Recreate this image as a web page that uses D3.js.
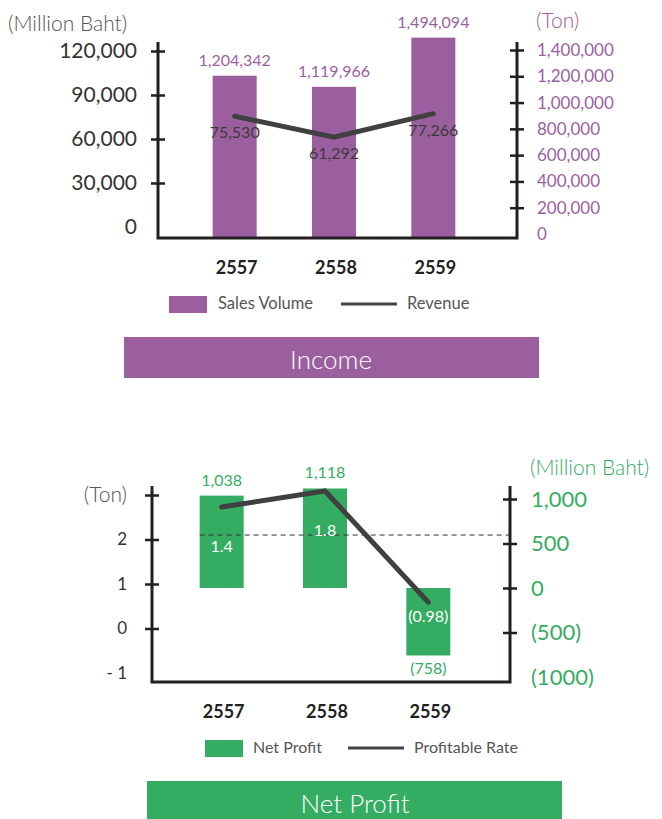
<!doctype html><html><head><meta charset="utf-8">
<style>
  body { margin: 0; background: #fff; }
  text { font-family: Lato, "Open Sans", sans-serif; }
</style>
</head><body><script src="https://d3js.org/d3.v7.min.js"></script>

<script>
  // ---- data ----
  const years = ["2557", "2558", "2559"];
  const salesVolume = [1204342, 1119966, 1494094];   // Ton
  const revenue = [75530, 61292, 77266];             // Million Baht
  const revenueTicks = [0, 30000, 60000, 90000, 120000];
  const volumeTicks = [0, 200000, 400000, 600000, 800000, 1000000, 1200000, 1400000];

  const netProfit = [1038, 1118, -758];              // Million Baht
  const profitRate = [1.4, 1.8, -0.98];
  const rateTicks = [-1, 0, 1, 2, 3];
  const rateTickLabels = ["- 1", "0", "1", "2", ""];
  const profitTicks = [-1000, -500, 0, 500, 1000];
  const profitTickLabels = ["(1000)", "(500)", "0", "500", "1,000"];
  const rateRef = 2.1;

  const purple = "#9b5fa0", green = "#34ad62", dark = "#231f20", lineCol = "#404040";
  const comma = d3.format(",");
  const paren = v => v < 0 ? "(" + comma(-v) + ")" : comma(v);

  const svg = d3.select("body").append("svg")
    .attr("width", 662)
    .attr("height", 819);

  // axis with ticks crossing the line
  function crossAxis(g, axis, size, fill, noMark) {
    g.call(axis);
    g.select(".domain").remove();
    g.attr("font-family", null).attr("font-size", null);
    g.selectAll(".tick line")
      .attr("x1", function() { return -d3.select(this).attr("x2"); })
      .attr("stroke", dark)
      .attr("stroke-width", 2.5)
      .filter(d => noMark.includes(d)).remove();
    g.selectAll(".tick text").attr("fill", fill).style("font-size", size + "px");
  }

  // ================= Income chart =================
  const x1 = d3.scaleBand().domain(years).range([185, 483]).paddingInner(0.557).paddingOuter(0.2785);
  const yL = d3.scaleLinear().domain([0, 120000]).range([227, 51]);
  const yR = d3.scaleLinear().domain([0, 1400000]).range([234, 50]);
  const base1 = 238;

  svg.selectAll(".vol").data(salesVolume).enter().append("rect")
    .attr("x", (d, i) => x1(years[i]))
    .attr("y", d => yR(d))
    .attr("width", x1.bandwidth())
    .attr("height", d => base1 - yR(d))
    .attr("fill", purple);

  svg.selectAll(".volLab").data(salesVolume).enter().append("text")
    .attr("x", (d, i) => x1(years[i]) + x1.bandwidth() / 2)
    .attr("y", d => yR(d) - 10)
    .attr("text-anchor", "middle")
    .style("font-size", "16px")
    .attr("fill", purple)
    .text(comma);

  const c1 = (d, i) => x1(years[i]) + x1.bandwidth() / 2;
  svg.append("path")
    .attr("d", d3.line().x(c1).y(d => yL(d))(revenue))
    .attr("fill", "none")
    .attr("stroke", lineCol)
    .attr("stroke-width", 5)
    .attr("stroke-linecap", "round");

  svg.selectAll(".revLab").data(revenue).enter().append("text")
    .attr("x", c1)
    .attr("y", d => yL(d) + 22)
    .attr("text-anchor", "middle")
    .style("font-size", "16px")
    .attr("fill", "#3a3a3a")
    .text(comma);

  svg.append("path")
    .attr("d", "M158,42V" + base1 + "H517V42")
    .attr("fill", "none").attr("stroke", dark).attr("stroke-width", 3);

  svg.append("g").attr("transform", "translate(158,0)")
    .call(g => crossAxis(g, d3.axisLeft(yL).tickValues(revenueTicks).tickFormat(comma).tickSize(7).tickPadding(14), 21, "#333", [0]));
  svg.append("g").attr("transform", "translate(517,0)")
    .call(g => crossAxis(g, d3.axisRight(yR).tickValues(volumeTicks).tickFormat(comma).tickSize(7).tickPadding(13), 17, purple, [0]));

  svg.selectAll(".yr1").data(years).enter().append("text")
    .attr("x", d => x1(d) + x1.bandwidth() / 2 + 2)
    .attr("y", 274)
    .attr("text-anchor", "middle")
    .style("font-size", "18px").style("font-weight", "bold")
    .attr("fill", "#222")
    .text(d => d);

  svg.append("text").attr("x", 8).attr("y", 31)
    .style("font-size", "21px").style("font-weight", 300).attr("fill", "#555")
    .text("(Million Baht)");
  svg.append("text").attr("x", 536).attr("y", 28)
    .style("font-size", "21px").style("font-weight", 300).attr("fill", purple)
    .text("(Ton)");

  // legend
  svg.append("rect").attr("x", 169).attr("y", 296).attr("width", 38).attr("height", 17).attr("fill", purple);
  svg.append("text").attr("x", 218).attr("y", 303).attr("dy", "0.35em")
    .style("font-size", "16.5px").attr("fill", "#555").text("Sales Volume");
  svg.append("line").attr("x1", 341).attr("x2", 397).attr("y1", 304).attr("y2", 304)
    .attr("stroke", "#444").attr("stroke-width", 3);
  svg.append("text").attr("x", 407).attr("y", 303).attr("dy", "0.35em")
    .style("font-size", "16.5px").attr("fill", "#555").text("Revenue");

  svg.append("rect").attr("x", 124).attr("y", 337).attr("width", 415).attr("height", 41).attr("fill", purple);
  svg.append("text").attr("x", 331).attr("y", 360).attr("dy", "0.35em").attr("text-anchor", "middle")
    .style("font-size", "26px").style("font-weight", 300).attr("fill", "#fff").text("Income");

  // ================= Net Profit chart =================
  const x2 = d3.scaleBand().domain(years).range([170, 480]).paddingInner(0.574).paddingOuter(0.287);
  const yRate = d3.scaleLinear().domain([-1, 3]).range([673, 495]);
  const yP = d3.scaleLinear().domain([-1000, 1000]).range([677, 499]);
  const yLine = d3.scaleLinear().domain([-1, 3]).range([603, 443]);
  const base2 = 682;

  svg.selectAll(".np").data(netProfit).enter().append("rect")
    .attr("x", (d, i) => x2(years[i]))
    .attr("y", d => Math.min(yP(d), yP(0)))
    .attr("width", x2.bandwidth())
    .attr("height", d => Math.abs(yP(d) - yP(0)))
    .attr("fill", green);

  const c2 = (d, i) => x2(years[i]) + x2.bandwidth() / 2;
  svg.selectAll(".npLab").data(netProfit).enter().append("text")
    .attr("x", c2)
    .attr("y", d => d >= 0 ? yP(d) - 10 : yP(d) + 19)
    .attr("text-anchor", "middle")
    .style("font-size", "16px")
    .attr("fill", green)
    .text(paren);

  svg.append("line")
    .attr("x1", x2(years[0])).attr("x2", 510)
    .attr("y1", yRate(rateRef)).attr("y2", yRate(rateRef))
    .attr("stroke", "#333").attr("stroke-width", 1).attr("stroke-dasharray", "5,4");

  svg.append("path")
    .attr("d", d3.line().x(c2).y(d => yLine(d))(profitRate))
    .attr("fill", "none")
    .attr("stroke", lineCol)
    .attr("stroke-width", 5)
    .attr("stroke-linecap", "round");

  svg.selectAll(".rateLab").data(profitRate).enter().append("text")
    .attr("x", c2)
    .attr("y", d => d >= 0 ? yLine(d) + 45 : yLine(d) + 20)
    .attr("text-anchor", "middle")
    .style("font-size", "16px")
    .attr("fill", "#fff")
    .text(d => d < 0 ? "(" + (-d) + ")" : d);

  svg.append("path")
    .attr("d", "M152,486V" + base2 + "H510V486")
    .attr("fill", "none").attr("stroke", dark).attr("stroke-width", 3);

  svg.append("g").attr("transform", "translate(152,0)")
    .call(g => crossAxis(g, d3.axisLeft(yRate).tickValues(rateTicks).tickFormat((d, i) => rateTickLabels[i]).tickSize(7).tickPadding(18), 17, "#333", [-1]));
  svg.append("g").attr("transform", "translate(510,0)")
    .call(g => crossAxis(g, d3.axisRight(yP).tickValues(profitTicks).tickFormat((d, i) => profitTickLabels[i]).tickSize(7).tickPadding(14), 22, green, [-1000]));

  svg.selectAll(".yr2").data(years).enter().append("text")
    .attr("x", d => x2(d) + x2.bandwidth() / 2 + 2)
    .attr("y", 718)
    .attr("text-anchor", "middle")
    .style("font-size", "18px").style("font-weight", "bold")
    .attr("fill", "#222")
    .text(d => d);

  svg.append("text").attr("x", 127).attr("y", 495).attr("dy", "0.35em").attr("text-anchor", "end")
    .style("font-size", "21px").style("font-weight", 300).attr("fill", "#555")
    .text("(Ton)");
  svg.append("text").attr("x", 530).attr("y", 468).attr("dy", "0.35em")
    .style("font-size", "21px").style("font-weight", 300).attr("fill", green)
    .text("(Million Baht)");

  // legend
  svg.append("rect").attr("x", 205).attr("y", 740).attr("width", 38).attr("height", 17).attr("fill", green);
  svg.append("text").attr("x", 253).attr("y", 747).attr("dy", "0.35em")
    .style("font-size", "16px").attr("fill", "#555").text("Net Profit");
  svg.append("line").attr("x1", 348).attr("x2", 404).attr("y1", 748).attr("y2", 748)
    .attr("stroke", "#444").attr("stroke-width", 3);
  svg.append("text").attr("x", 414).attr("y", 747).attr("dy", "0.35em")
    .style("font-size", "16px").attr("fill", "#555").text("Profitable Rate");

  svg.append("rect").attr("x", 147).attr("y", 781).attr("width", 415).attr("height", 45).attr("fill", green);
  svg.append("text").attr("x", 355).attr("y", 804).attr("dy", "0.35em").attr("text-anchor", "middle")
    .style("font-size", "26px").style("font-weight", 300).attr("fill", "#fff").text("Net Profit");
</script></body></html>
